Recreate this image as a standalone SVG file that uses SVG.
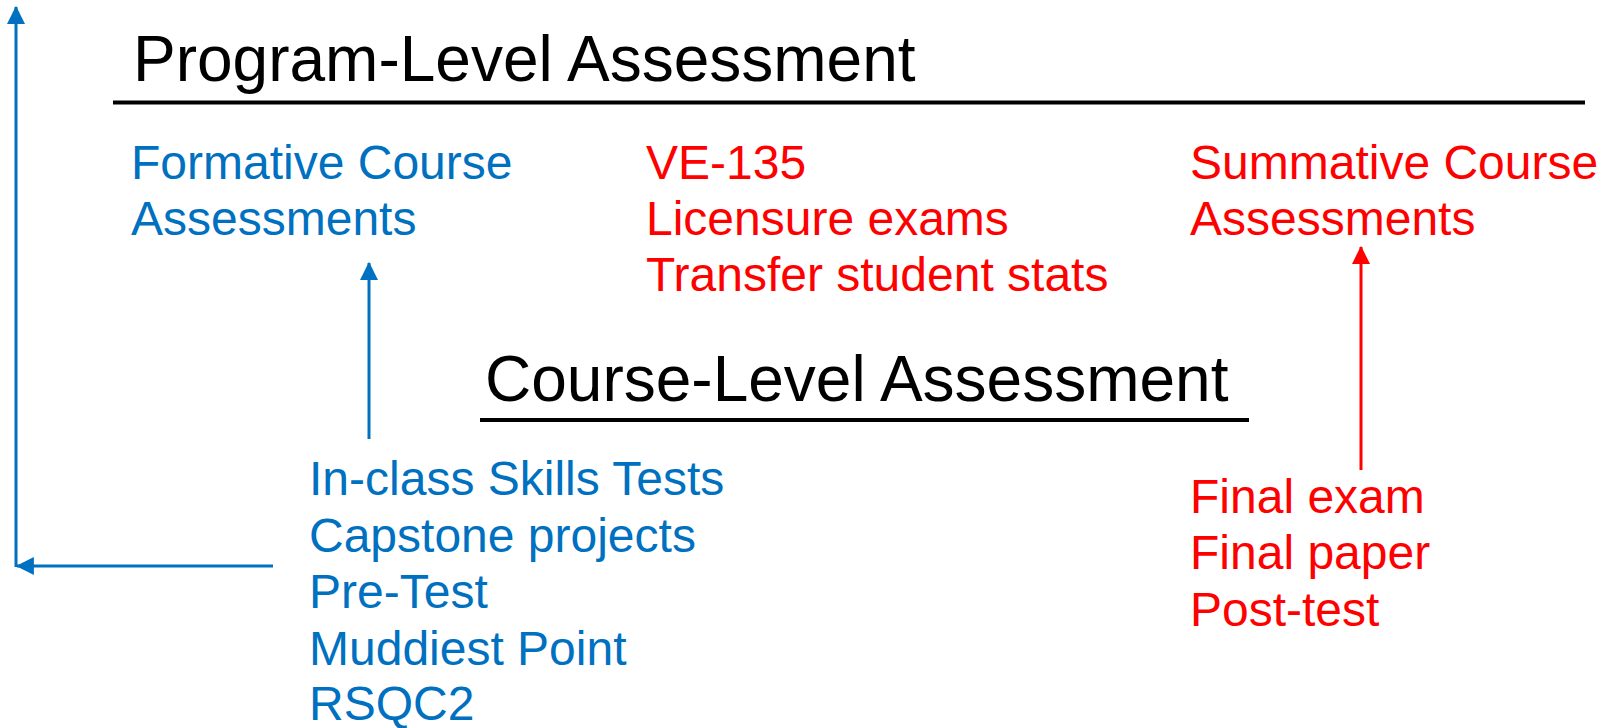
<svg xmlns="http://www.w3.org/2000/svg" width="1608" height="728" viewBox="0 0 1608 728">
<style>
text{font-family:"Liberation Sans",Arial,sans-serif}
.h{font-size:64px;fill:#000}
.b{font-size:48px;fill:#0070C0}
.r{font-size:48px;fill:#FF0000}
.rule{stroke:#000;stroke-width:4}
.cb{stroke:#0070C0;stroke-width:3;fill:none}
.cr{stroke:#FF0000;stroke-width:3;fill:none}
</style>
<defs>
<marker id="ab" markerUnits="userSpaceOnUse" markerWidth="18" markerHeight="18" viewBox="0 0 16 16" refX="15" refY="8" orient="auto"><path d="M0,0L16,8L0,16Z" fill="#0070C0"/></marker>
<marker id="ar" markerUnits="userSpaceOnUse" markerWidth="18" markerHeight="18" viewBox="0 0 16 16" refX="15" refY="8" orient="auto"><path d="M0,0L16,8L0,16Z" fill="#FF0000"/></marker>
</defs>
<g id="program-level">
<text class="h" x="133" y="81">Program-Level Assessment</text>
<line class="rule" x1="113" y1="102.5" x2="1585" y2="102.5"/>
</g>
<g id="formative">
<text class="b" x="131" y="179">Formative Course</text>
<text class="b" x="131" y="235">Assessments</text>
</g>
<g id="external">
<text class="r" x="646" y="179">VE-135</text>
<text class="r" x="646" y="235">Licensure exams</text>
<text class="r" x="646" y="291">Transfer student stats</text>
</g>
<g id="summative">
<text class="r" x="1190" y="179">Summative Course</text>
<text class="r" x="1190" y="235">Assessments</text>
</g>
<g id="course-level">
<text class="h" x="485" y="401">Course-Level Assessment</text>
<line class="rule" x1="480" y1="420" x2="1249" y2="420"/>
</g>
<g id="formative-list">
<text class="b" x="309" y="495">In-class Skills Tests</text>
<text class="b" x="309" y="552">Capstone projects</text>
<text class="b" x="309" y="608">Pre-Test</text>
<text class="b" x="309" y="665">Muddiest Point</text>
<text class="b" x="309" y="720">RSQC2</text>
</g>
<g id="summative-list">
<text class="r" x="1190" y="513">Final exam</text>
<text class="r" x="1190" y="569">Final paper</text>
<text class="r" x="1190" y="626">Post-test</text>
</g>
<g id="connectors">
<line class="cb" x1="16" y1="567" x2="16" y2="7" marker-end="url(#ab)"/>
<line class="cb" x1="273" y1="566" x2="17" y2="566" marker-end="url(#ab)"/>
<line class="cb" x1="369" y1="439" x2="369" y2="263" marker-end="url(#ab)"/>
<line class="cr" x1="1361" y1="470" x2="1361" y2="247" marker-end="url(#ar)"/>
</g>
</svg>
